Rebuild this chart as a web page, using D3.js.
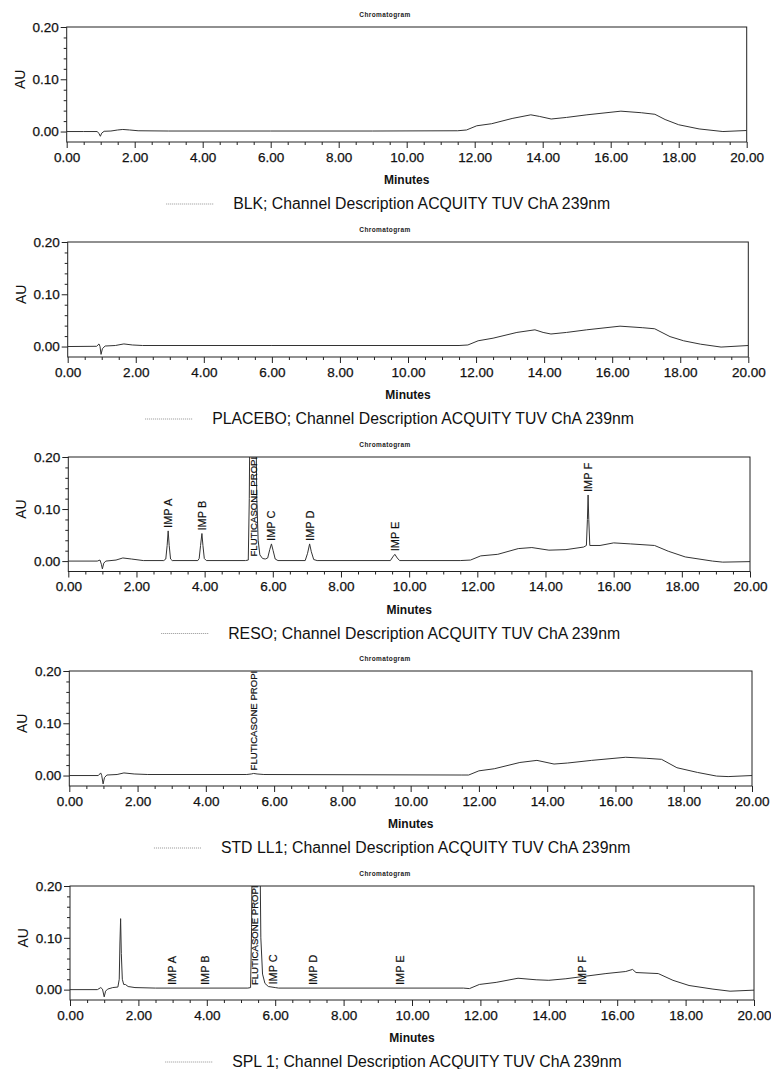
<!DOCTYPE html>
<html>
<head>
<meta charset="utf-8">
<script src="https://cdn.jsdelivr.net/npm/d3@7"></script>
<style>
  body { margin: 0; background: #fff; }
  svg { display: block; font-family: "Liberation Sans", Arial, sans-serif; }
</style>
</head>
<body>
<svg id="chart" width="771" height="1069"></svg>
<script>
/*---------------------------------- data ----------------------------------*/

//x ticks (minutes) and y ticks (AU)
var xMajorTicks = [0, 2, 4, 6, 8, 10, 12, 14, 16, 18, 20];
var yMajorTicks = [0, 0.1, 0.2];
var legendSuffix = "; Channel Description ACQUITY TUV ChA 239nm";

//each trace is [minutes, AU]
var blkTrace = [
    [0, 0], [0.5, 0], [0.9, 0], [0.95, -0.004], [0.99, -0.009], [1.03, -0.003], [1.1, 0.0005],
    [1.3, 0.001], [1.5, 0.003], [1.65, 0.004], [1.85, 0.003], [2.1, 0.0015], [3, 0.001], [6, 0.001],
    [9, 0.001], [11.5, 0.0015], [11.76, 0.003], [12.06, 0.011], [12.5, 0.015], [13.1, 0.025],
    [13.65, 0.032], [13.9, 0.029], [14.25, 0.024], [14.7, 0.027], [15.3, 0.032], [16.3, 0.039],
    [16.9, 0.036], [17.3, 0.033], [17.6, 0.023], [18.0, 0.013], [18.6, 0.005], [19.3, 0.0], [20, 0.002]
];

var placeboTrace = [
    [0, 0], [0.85, 0.0005], [0.92, 0.005], [0.95, 0.0], [0.98, -0.015], [1.02, -0.004], [1.1, 0.001],
    [1.4, 0.002], [1.65, 0.005], [1.9, 0.003], [2.2, 0.002], [6, 0.002], [11.5, 0.002], [11.76, 0.003],
    [12.06, 0.011], [12.5, 0.016], [13.2, 0.027], [13.73, 0.032], [13.97, 0.027], [14.2, 0.024],
    [14.66, 0.027], [15.25, 0.032], [16.23, 0.039], [16.9, 0.036], [17.25, 0.034], [17.7, 0.019],
    [18.1, 0.011], [18.6, 0.0045], [19.2, -0.001], [20, 0.002]
];

var resoTrace = [
    [0, 0], [0.85, 0.0], [0.93, 0.002], [0.97, -0.006], [1.0, -0.015], [1.04, -0.004], [1.1, 0.0],
    [1.4, 0.002], [1.6, 0.006], [1.85, 0.004], [2.2, 0.001], [2.8, 0.001],
    [2.86, 0.004], [2.9, 0.03], [2.93, 0.058], [2.96, 0.03], [3.0, 0.004], [3.05, 0.001],
    [3.8, 0.001], [3.84, 0.005], [3.88, 0.03], [3.92, 0.053], [3.95, 0.03], [3.99, 0.005], [4.05, 0.001],
    [5.2, 0.001], [5.28, 0.002], [5.31, 0.12], [5.33, 0.3], [5.5, 0.3], [5.53, 0.12], [5.57, 0.04],
    [5.62, 0.012], [5.7, 0.005], [5.78, 0.004],
    [5.85, 0.006], [5.91, 0.022], [5.96, 0.033], [6.01, 0.02], [6.07, 0.004], [6.15, 0.001],
    [6.95, 0.001], [7.02, 0.015], [7.08, 0.033], [7.13, 0.018], [7.2, 0.003], [7.3, 0.001],
    [9.45, 0.001], [9.52, 0.008], [9.58, 0.013], [9.65, 0.006], [9.72, 0.001],
    [11.5, 0.001], [11.8, 0.002], [12.1, 0.01], [12.6, 0.013], [13.2, 0.024], [13.6, 0.026],
    [14.1, 0.021], [14.6, 0.022], [15.12, 0.027],
    [15.2, 0.03], [15.23, 0.08], [15.25, 0.127], [15.27, 0.08], [15.3, 0.03],
    [15.6, 0.03], [16.0, 0.035], [16.5, 0.033], [17.2, 0.03], [17.6, 0.019], [18.1, 0.008],
    [18.9, 0.0], [19.2, -0.002], [20, -0.001]
];

var stdTrace = [
    [0, 0], [0.85, 0.0], [0.92, 0.005], [0.95, 0.0], [0.99, -0.016], [1.03, -0.004], [1.1, 0.001],
    [1.4, 0.002], [1.6, 0.005], [1.9, 0.003], [2.3, 0.002], [5.2, 0.002], [5.33, 0.003], [5.4, 0.004],
    [5.5, 0.003], [5.7, 0.002], [11.5, 0.001], [11.7, 0.001], [12.0, 0.009], [12.45, 0.013],
    [13.2, 0.025], [13.7, 0.029], [14.2, 0.022], [14.6, 0.024], [15.3, 0.029], [16.3, 0.035],
    [16.9, 0.033], [17.35, 0.031], [17.8, 0.015], [18.4, 0.006], [18.96, -0.001], [19.3, -0.002], [20, 0]
];

var splTrace = [
    [0, 0], [0.8, 0.0], [0.9, 0.004], [0.95, 0.001], [1.0, -0.014], [1.04, -0.003], [1.1, 0.001],
    [1.25, 0.004], [1.4, 0.005], [1.44, 0.02], [1.46, 0.09], [1.48, 0.137], [1.5, 0.07], [1.53, 0.02],
    [1.57, 0.01], [1.62, 0.01], [1.7, 0.006], [1.9, 0.004], [2.5, 0.003], [5.2, 0.003], [5.28, 0.004],
    [5.31, 0.12], [5.33, 0.3], [5.55, 0.3], [5.58, 0.1], [5.63, 0.03], [5.7, 0.012], [5.8, 0.006],
    [6.0, 0.004], [6.1, 0.003], [11.5, 0.003], [11.68, 0.002], [11.97, 0.01], [12.46, 0.014],
    [13.1, 0.022], [13.63, 0.019], [14.0, 0.018], [14.5, 0.021], [15.08, 0.026], [15.67, 0.031],
    [16.25, 0.035], [16.45, 0.039], [16.55, 0.033], [17.2, 0.031], [17.63, 0.018], [18.1, 0.008],
    [18.8, 0.001], [19.3, -0.003], [20, -0.001]
];

//peak labels [name, minutes]
var resoLabels = [["IMP A", 2.93], ["IMP B", 3.92], ["FLUTICASONE PROPIONATE", 5.42], ["IMP C", 5.96],
    ["IMP D", 7.08], ["IMP E", 9.58], ["IMP F", 15.25]];
var stdLabels = [["FLUTICASONE PROPIONATE", 5.41]];
var splLabels = [["IMP A", 2.97], ["IMP B", 3.95], ["FLUTICASONE PROPIONATE", 5.41], ["IMP C", 5.94],
    ["IMP D", 7.1], ["IMP E", 9.65], ["IMP F", 14.96]];

var sampleNames = ["BLK", "PLACEBO", "RESO", "STD LL1", "SPL 1"];
var traces = [blkTrace, placeboTrace, resoTrace, stdTrace, splTrace];
var peakLabels = [[], [], resoLabels, stdLabels, splLabels];

/*---------------------------------- layout ----------------------------------*/

//plot boxes follow the scanned page: [left, right, top, bottom]
var boxes = [
    [66.7, 746.7, 27, 142],
    [67.7, 748.3, 242, 357],
    [68.3, 750, 457, 571.5],
    [69.3, 752, 671, 786],
    [70, 754, 886, 1000]
];

var svg = d3.select("#chart");
svg.append("rect").attr("width", 771).attr("height", 1069).attr("fill", "#fff");

sampleNames.forEach(function (name, i) {
    drawPanel(i, name, traces[i], peakLabels[i], boxes[i]);
});

function drawPanel(i, name, trace, labels, box) {
    var left = box[0], right = box[1], top = box[2], bottom = box[3];
    var x = d3.scaleLinear().domain([0, 20]).range([left, right]);
    var y = d3.scaleLinear().domain([-0.02, 0.2]).range([bottom, top]);
    var g = svg.append("g");

    //clip for the trace
    g.append("clipPath").attr("id", "clip" + i)
        .append("rect")
        .attr("x", left).attr("y", top)
        .attr("width", right - left).attr("height", bottom - top);

    //"Chromatogram" caption
    g.append("text")
        .attr("x", 385).attr("y", top - 10)
        .attr("text-anchor", "middle")
        .attr("font-size", 6.5).attr("font-weight", "bold")
        .attr("letter-spacing", 0.4)
        .attr("fill", "#222")
        .text("Chromatogram");

    var plot = g.append("g").attr("clip-path", "url(#clip" + i + ")");

    //trace
    var line = d3.line()
        .x(function (d) { return x(d[0]); })
        .y(function (d) { return y(d[1]); });
    plot.append("path")
        .datum(trace)
        .attr("d", line)
        .attr("fill", "none")
        .attr("stroke", "#333")
        .attr("stroke-width", 1);

    //peak labels, rotated, sitting on the peak top (off-scale peaks get the label at the bottom)
    labels.forEach(function (lab) {
        var near = trace.filter(function (d) { return Math.abs(d[0] - lab[1]) <= 0.06; });
        var peakTop = d3.max(near, function (d) { return d[1]; });
        if (peakTop === undefined) peakTop = 0.003;
        var yPos = peakTop > 0.2 ? bottom - 3 : y(peakTop) - 3;
        plot.append("text")
            .attr("transform", "translate(" + x(lab[1]) + "," + yPos + ") rotate(-90)")
            .attr("dy", "0.36em")
            .attr("font-size", lab[0].length > 8 ? 9.6 : 11)
            .attr("fill", "#111")
            .attr("stroke", "#111").attr("stroke-width", 0.2)
            .text(lab[0]);
    });

    //box
    g.append("rect")
        .attr("x", left).attr("y", top)
        .attr("width", right - left).attr("height", bottom - top)
        .attr("fill", "none").attr("stroke", "#222").attr("stroke-width", 1);

    //x axis
    var xMinor = d3.range(0, 20.01, 0.5).filter(function (v) { return v % 2 !== 0; });
    g.append("g")
        .attr("transform", "translate(0," + bottom + ")")
        .call(d3.axisBottom(x).tickValues(xMinor).tickSize(3).tickSizeOuter(0).tickFormat(""))
        .call(function (a) { a.select(".domain").remove(); });
    var xAxis = g.append("g")
        .attr("transform", "translate(0," + bottom + ")")
        .call(d3.axisBottom(x).tickValues(xMajorTicks).tickSize(6).tickSizeOuter(0)
            .tickPadding(4).tickFormat(d3.format(".2f")));
    xAxis.select(".domain").remove();
    xAxis.selectAll("text").attr("font-size", 13.5).attr("font-family", "Liberation Sans, Arial, sans-serif")
        .attr("fill", "#111").attr("stroke", "#111").attr("stroke-width", 0.25);

    //y axis
    var yMinor = d3.range(0.02, 0.2, 0.02).filter(function (v) { return Math.abs(v - 0.1) > 0.001; });
    g.append("g")
        .attr("transform", "translate(" + left + ",0)")
        .call(d3.axisLeft(y).tickValues(yMinor).tickSize(3).tickSizeOuter(0).tickFormat(""))
        .call(function (a) { a.select(".domain").remove(); });
    var yAxis = g.append("g")
        .attr("transform", "translate(" + left + ",0)")
        .call(d3.axisLeft(y).tickValues(yMajorTicks).tickSize(6).tickSizeOuter(0)
            .tickPadding(2).tickFormat(d3.format(".2f")));
    yAxis.select(".domain").remove();
    yAxis.selectAll("text").attr("font-size", 13.5).attr("font-family", "Liberation Sans, Arial, sans-serif")
        .attr("fill", "#111").attr("stroke", "#111").attr("stroke-width", 0.25);
    g.selectAll(".tick line").attr("stroke", "#222");

    //axis titles
    g.append("text")
        .attr("transform", "translate(" + (left - 47) + "," + y(0.1) + ") rotate(-90)")
        .attr("text-anchor", "middle")
        .attr("dy", "0.35em")
        .attr("font-size", 14)
        .attr("fill", "#111")
        .text("AU");
    g.append("text")
        .attr("x", (left + right) / 2).attr("y", bottom + 42)
        .attr("text-anchor", "middle")
        .attr("font-size", 12).attr("font-weight", "bold")
        .attr("fill", "#111")
        .text("Minutes");

    //legend
    var legendText = g.append("text")
        .attr("x", (left + right) / 2 + 15).attr("y", bottom + 67)
        .attr("text-anchor", "middle")
        .attr("font-size", 15.8)
        .attr("fill", "#111")
        .text(name + legendSuffix);
    var textStart = (left + right) / 2 + 15 - legendText.node().getComputedTextLength() / 2;
    g.append("line")
        .attr("x1", textStart - 67).attr("x2", textStart - 19)
        .attr("y1", bottom + 62).attr("y2", bottom + 62)
        .attr("stroke", "#777").attr("stroke-width", 0.8)
        .attr("stroke-dasharray", "1,1");
}
</script>
</body>
</html>
